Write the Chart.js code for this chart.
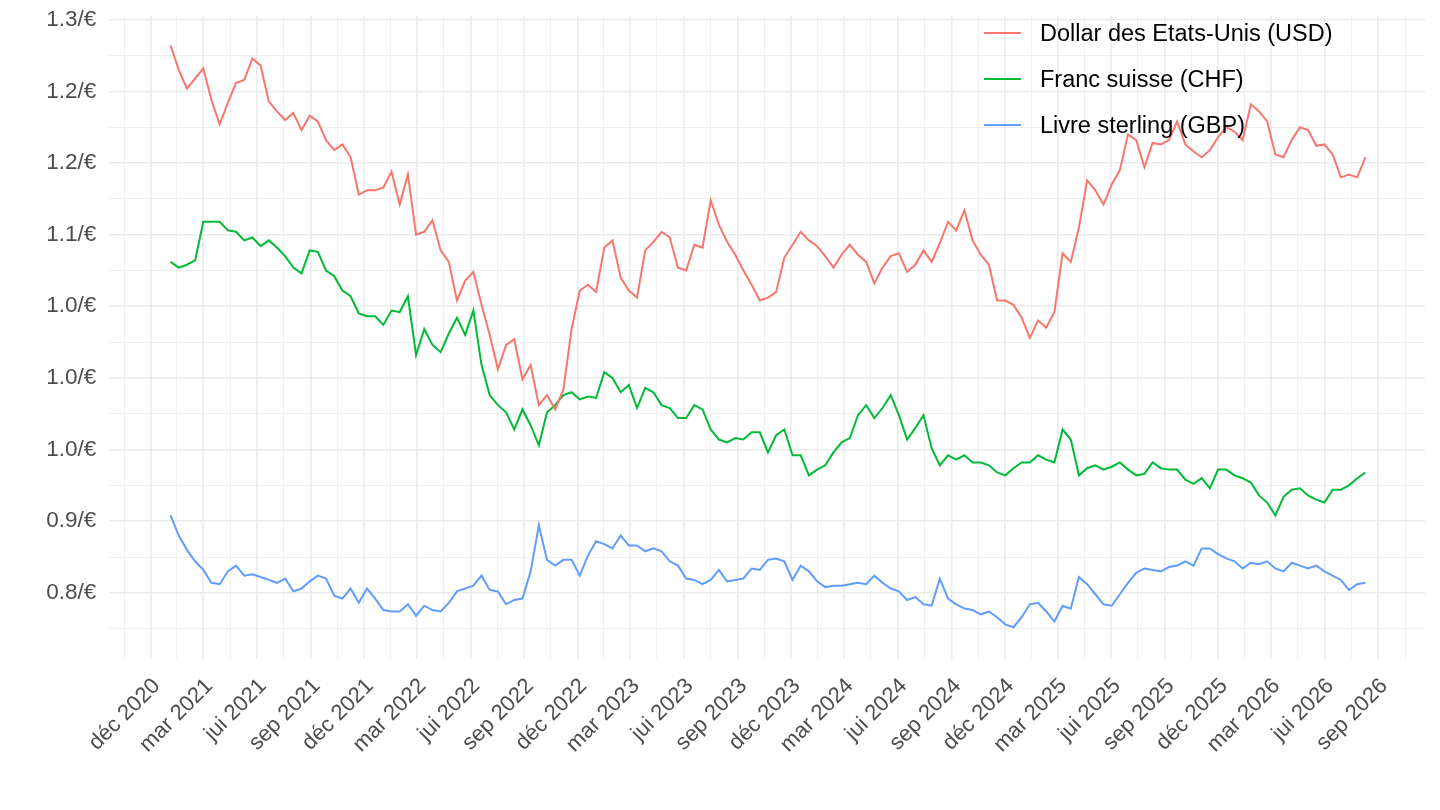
<!DOCTYPE html>
<html lang="fr">
<head>
<meta charset="utf-8">
<title>Taux de change de l'euro</title>
<script src="https://cdn.jsdelivr.net/npm/chart.js@4.4.1/dist/chart.umd.min.js"></script>
<style>
  html, body { margin: 0; padding: 0; background: #ffffff; }
  #cadre { width: 1440px; height: 810px; }
</style>
</head>
<body>
<div id="cadre"><canvas id="graphique"></canvas></div>
<script>
// une observation tous les 14 jours a partir du 4 janvier 2021
const premierJour = '2021-01-04';
const pasJours = 14;

const usd = [
  1.232, 1.215, 1.202, 1.209, 1.216, 1.194, 1.177, 1.192, 1.206, 1.208,
  1.223, 1.218, 1.193, 1.186, 1.180, 1.185, 1.173, 1.183, 1.179, 1.166,
  1.159, 1.163, 1.154, 1.128, 1.131, 1.131, 1.133, 1.144, 1.121, 1.142,
  1.100, 1.102, 1.110, 1.089, 1.081, 1.054, 1.068, 1.074, 1.051, 1.030,
  1.006, 1.023, 1.027, 0.999, 1.009, 0.981, 0.988, 0.978, 0.992, 1.034,
  1.061, 1.065, 1.060, 1.091, 1.096, 1.070, 1.061, 1.056, 1.089, 1.095,
  1.102, 1.098, 1.077, 1.075, 1.093, 1.091, 1.124, 1.107, 1.095, 1.086,
  1.075, 1.065, 1.054, 1.056, 1.060, 1.084, 1.093, 1.102, 1.096, 1.092,
  1.085, 1.077, 1.086, 1.093, 1.086, 1.081, 1.066, 1.077, 1.085, 1.087,
  1.074, 1.079, 1.089, 1.081, 1.094, 1.109, 1.103, 1.117, 1.096, 1.086,
  1.079, 1.054, 1.054, 1.051, 1.042, 1.028, 1.040, 1.035, 1.046, 1.087,
  1.081, 1.105, 1.138, 1.131, 1.121, 1.135, 1.145, 1.170, 1.166, 1.147,
  1.164, 1.163, 1.166, 1.179, 1.163, 1.158, 1.154, 1.159, 1.168, 1.175,
  1.172, 1.166, 1.191, 1.186, 1.179, 1.156, 1.154, 1.166, 1.175, 1.173,
  1.162, 1.163, 1.156, 1.140, 1.142, 1.140, 1.154
];

const chf = [
  1.081, 1.077, 1.079, 1.082, 1.109, 1.109, 1.109, 1.103, 1.102, 1.096,
  1.098, 1.092, 1.096, 1.091, 1.085, 1.077, 1.073, 1.089, 1.088, 1.075,
  1.071, 1.061, 1.057, 1.045, 1.043, 1.043, 1.037, 1.047, 1.046, 1.057,
  1.016, 1.034, 1.023, 1.018, 1.031, 1.042, 1.030, 1.047, 1.009, 0.988,
  0.981, 0.976, 0.964, 0.978, 0.967, 0.953, 0.976, 0.981, 0.988, 0.990,
  0.985, 0.987, 0.986, 1.004, 1.000, 0.990, 0.995, 0.979, 0.993, 0.990,
  0.981, 0.979, 0.972, 0.972, 0.981, 0.978, 0.964, 0.957, 0.955, 0.958,
  0.957, 0.962, 0.962, 0.948, 0.960, 0.964, 0.946, 0.946, 0.932, 0.936,
  0.939, 0.948, 0.955, 0.958, 0.974, 0.981, 0.972, 0.979, 0.988, 0.974,
  0.957, 0.965, 0.974, 0.951, 0.939, 0.946, 0.943, 0.946, 0.941, 0.941,
  0.939, 0.934, 0.932, 0.937, 0.941, 0.941, 0.946, 0.943, 0.941, 0.964,
  0.957, 0.932, 0.937, 0.939, 0.936, 0.938, 0.941, 0.936, 0.932, 0.933,
  0.941, 0.937, 0.936, 0.936, 0.929, 0.926, 0.930, 0.923, 0.936, 0.936,
  0.932, 0.930, 0.927, 0.918, 0.913, 0.904, 0.917, 0.922, 0.923, 0.918,
  0.915, 0.913, 0.922, 0.922, 0.925, 0.930, 0.934
];

const gbp = [
  0.904, 0.890, 0.880, 0.872, 0.866, 0.857, 0.856, 0.865, 0.869, 0.862,
  0.863, 0.861, 0.859, 0.857, 0.860, 0.851, 0.853, 0.858, 0.862, 0.860,
  0.848, 0.846, 0.853, 0.843, 0.853, 0.846, 0.838, 0.837, 0.837, 0.842,
  0.834, 0.841, 0.838, 0.837, 0.843, 0.851, 0.853, 0.855, 0.862, 0.852,
  0.851, 0.842, 0.845, 0.846, 0.865, 0.897, 0.873, 0.869, 0.873, 0.873,
  0.862, 0.876, 0.886, 0.884, 0.881, 0.890, 0.883, 0.883, 0.879, 0.881,
  0.879, 0.872, 0.869, 0.860, 0.859, 0.856, 0.859, 0.866, 0.858, 0.859,
  0.860, 0.867, 0.866, 0.873, 0.874, 0.872, 0.859, 0.869, 0.865, 0.858,
  0.854, 0.855, 0.855, 0.856, 0.857, 0.856, 0.862, 0.857, 0.853, 0.851,
  0.845, 0.847, 0.842, 0.841, 0.860, 0.846, 0.842, 0.839, 0.838, 0.835,
  0.837, 0.833, 0.828, 0.826, 0.833, 0.842, 0.843, 0.837, 0.830, 0.841,
  0.839, 0.861, 0.856, 0.849, 0.842, 0.841, 0.849, 0.857, 0.864, 0.867,
  0.866, 0.865, 0.868, 0.869, 0.872, 0.869, 0.881, 0.881, 0.877, 0.874,
  0.872, 0.867, 0.871, 0.870, 0.872, 0.867, 0.865, 0.871, 0.869, 0.867,
  0.869, 0.865, 0.862, 0.859, 0.852, 0.856, 0.857
];

const noms = ['Dollar des Etats-Unis (USD)', 'Franc suisse (CHF)', 'Livre sterling (GBP)'];
const couleurs = ['#F8766D', '#00BA38', '#619CFF'];

const moisTicks = [
  '2020-12-01', '2021-03-01', '2021-06-01', '2021-09-01', '2021-12-01', '2022-03-01',
  '2022-06-01', '2022-09-01', '2022-12-01', '2023-03-01', '2023-06-01', '2023-09-01',
  '2023-12-01', '2024-03-01', '2024-06-01', '2024-09-01', '2024-12-01', '2025-03-01',
  '2025-06-01', '2025-09-01', '2025-12-01', '2026-03-01', '2026-06-01', '2026-09-01'
];
const moisLabels = [
  'déc 2020', 'mar 2021', 'jui 2021', 'sep 2021', 'déc 2021', 'mar 2022',
  'jui 2022', 'sep 2022', 'déc 2022', 'mar 2023', 'jui 2023', 'sep 2023',
  'déc 2023', 'mar 2024', 'jui 2024', 'sep 2024', 'déc 2024', 'mar 2025',
  'jui 2025', 'sep 2025', 'déc 2025', 'mar 2026', 'jui 2026', 'sep 2026'
];

const yTicks = [0.85, 0.90, 0.95, 1.00, 1.05, 1.10, 1.15, 1.20, 1.25];
const yLabels = ['0.8/€', '0.9/€', '1.0/€', '1.0/€', '1.0/€', '1.1/€', '1.2/€', '1.2/€', '1.3/€'];

// jours depuis le 1er decembre 2020
function jour(s) {
  const p = s.split('-').map(Number);
  return (Date.UTC(p[0], p[1] - 1, p[2]) - Date.UTC(2020, 11, 1)) / 86400000;
}

const x0 = jour(premierJour);
function points(serie) {
  return serie.map((v, i) => ({ x: x0 + i * pasJours, y: v }));
}

// graduations majeures + mineures (a mi-chemin, comme ggplot)
const majX = moisTicks.map(jour);
const xGrad = [{ value: majX[0] - (majX[1] - majX[0]) / 2, label: '', major: false }];
majX.forEach((v, i) => {
  xGrad.push({ value: v, label: moisLabels[i], major: true });
  const suivant = i < majX.length - 1 ? majX[i + 1] : v + (v - majX[i - 1]);
  xGrad.push({ value: (v + suivant) / 2, label: '', major: false });
});

const yGrad = [{ value: yTicks[0] - 0.025, label: '', major: false }];
yTicks.forEach((v, i) => {
  yGrad.push({ value: v, label: yLabels[i], major: true });
  if (i < yTicks.length - 1) yGrad.push({ value: v + 0.025, label: '', major: false });
});

const gris = '#EBEBEB';
const police = "'Liberation Sans', Arial, sans-serif";

const legendeInterne = {
  id: 'legendeInterne',
  afterDatasetsDraw(chart) {
    const ctx = chart.ctx;
    ctx.save();
    ctx.font = '23.5px ' + police;
    ctx.textBaseline = 'middle';
    ctx.textAlign = 'left';
    chart.data.datasets.forEach((ds, i) => {
      const y = 33 + i * 46;
      ctx.strokeStyle = ds.borderColor;
      ctx.lineWidth = 2;
      ctx.beginPath();
      ctx.moveTo(984, y);
      ctx.lineTo(1021, y);
      ctx.stroke();
      ctx.fillStyle = '#000000';
      ctx.fillText(ds.label, 1040, y + 1.5);
    });
    ctx.restore();
  }
};

new Chart(document.getElementById('graphique'), {
  type: 'line',
  data: {
    datasets: [usd, chf, gbp].map((s, i) => ({
      label: noms[i],
      data: points(s),
      borderColor: couleurs[i],
      backgroundColor: couleurs[i],
      borderWidth: 2,
      pointRadius: 0,
      tension: 0,
      fill: false
    }))
  },
  options: {
    responsive: true,
    maintainAspectRatio: false,
    animation: false,
    layout: { padding: { top: 15.6, right: 15, left: 0, bottom: 0 } },
    plugins: { legend: { display: false }, tooltip: { enabled: false } },
    scales: {
      x: {
        type: 'linear',
        min: -70.8,
        max: 2180,
        border: { display: false },
        grid: {
          drawTicks: false,
          color: gris,
          lineWidth: c => (c.tick && c.tick.major) ? 1.6 : 0.8
        },
        afterBuildTicks: s => { s.ticks = xGrad.map(t => ({ value: t.value, major: t.major })); },
        afterFit: s => { s.height = 150.7; s.paddingLeft = 0; s.paddingRight = 0; },
        ticks: {
          autoSkip: false,
          minRotation: 45,
          maxRotation: 45,
          padding: 14,
          labelOffset: 6,
          color: '#4D4D4D',
          font: { family: police, size: 22 },
          callback: (v, i) => xGrad[i] ? xGrad[i].label : ''
        }
      },
      y: {
        type: 'linear',
        min: 0.8036,
        max: 1.2529,
        border: { display: false },
        grid: {
          drawTicks: false,
          color: gris,
          lineWidth: c => (c.tick && c.tick.major) ? 1.6 : 0.8
        },
        afterBuildTicks: s => { s.ticks = yGrad.map(t => ({ value: t.value, major: t.major })); },
        afterFit: s => { s.width = 109.3; s.paddingTop = 0; s.paddingBottom = 0; },
        ticks: {
          padding: 13,
          color: '#4D4D4D',
          font: { family: police, size: 22.5 },
          callback: (v, i) => yGrad[i] ? yGrad[i].label : ''
        }
      }
    }
  },
  plugins: [legendeInterne]
});
</script>
</body>
</html>
